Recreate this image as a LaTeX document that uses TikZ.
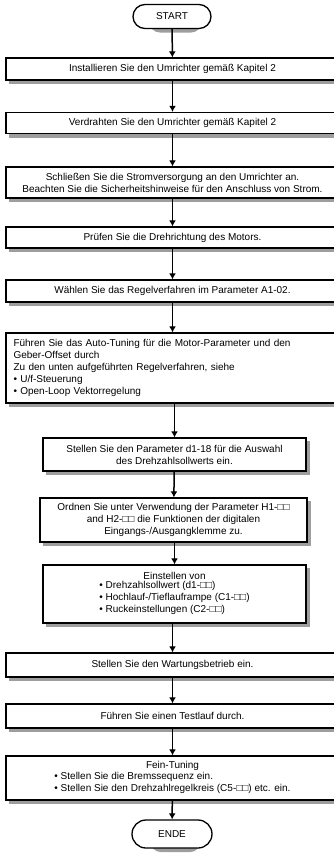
\documentclass[tikz,border=0pt]{standalone}
\usepackage{fontspec}
\setmainfont{Liberation Sans}
\usetikzlibrary{shapes,arrows}
\usetikzlibrary{arrows.meta}
\usetikzlibrary{backgrounds}
\usetikzlibrary{positioning}
\definecolor{shadowgray}{gray}{0.62}
\begin{document}
\begin{tikzpicture}[%
		x=1pt, y=1pt,
		>={Latex[length=6pt, width=7pt]},
		stepbox/.style={rectangle, draw=black, line width=1.3pt, fill=white,
			font=\fontsize{10}{12}\selectfont, inner sep=2pt},
		terminal/.style={stepbox, rounded rectangle, minimum width=82, minimum height=24},
		flow/.style={line width=1.5pt, black, ->}
		]
		% (333px,854px), y measured downwards from the top
		\useasboundingbox (0,0) rectangle (333,-854);
		%%%%%%%%%%%%%%%
		%    NODES    %
		%%%%%%%%%%%%%%%
		\node[terminal] (start) at (172, -16.5) {START};
		
		% setup
		\node[stepbox, minimum width=333, minimum height=22] (inst) at (172.5, -69) {Installieren Sie den Umrichter gemäß Kapitel 2};
		\node[stepbox, minimum width=333, minimum height=21] (wire) at (172.5, -123) {Verdrahten Sie den Umrichter gemäß Kapitel 2};
		\node[stepbox, minimum width=333, minimum height=31, align=center] (power) at (172.5, -182.5) {Schließen Sie die Stromversorgung an den Umrichter an.\\Beachten Sie die Sicherheitshinweise für den Anschluss von Strom.};
		\node[stepbox, minimum width=333, minimum height=21] (rot) at (172.5, -237.5) {Prüfen Sie die Drehrichtung des Motors.};
		\node[stepbox, minimum width=333, minimum height=22] (ctrl) at (172.5, -291) {Wählen Sie das Regelverfahren im Parameter A1-02.};
		
		% Auto-Tuning
		\node[stepbox, minimum width=333, minimum height=70, text width=318, align=left] (tune) at (172.5, -368) {Führen Sie das Auto-Tuning für die Motor-Parameter und den\\Geber-Offset durch\\Zu den unten aufgeführten Regelverfahren, siehe\\• U/f-Steuerung\\• Open-Loop Vektorregelung};
		
		% parameters
		\node[stepbox, minimum width=263, minimum height=33, align=center] (ref) at (174.5, -454.5) {Stellen Sie den Parameter d1-18 für die Auswahl\\des Drehzahlsollwerts ein.};
		\node[stepbox, minimum width=267, minimum height=44, align=center] (io) at (173.5, -520) {Ordnen Sie unter Verwendung der Parameter H1-□□\\and H2-□□ die Funktionen der digitalen\\Eingangs-/Ausgangklemme zu.};
		\node[stepbox, minimum width=263, minimum height=58, align=center] (set) at (174.5, -594) {Einstellen von\\\begin{tabular}{@{}l@{}}• Drehzahlsollwert (d1-□□)\\• Hochlauf-/Tieflauframpe (C1-□□)\\• Ruckeinstellungen (C2-□□)\end{tabular}};
		
		% final steps
		\node[stepbox, minimum width=333, minimum height=24] (maint) at (172.5, -665) {Stellen Sie den Wartungsbetrieb ein.};
		\node[stepbox, minimum width=333, minimum height=24] (test) at (172.5, -716) {Führen Sie einen Testlauf durch.};
		\node[stepbox, minimum width=333, minimum height=44, align=center] (fine) at (172.5, -778) {Fein-Tuning\\\begin{tabular}{@{}l@{}}• Stellen Sie die Bremssequenz ein.\\• Stellen Sie den Drehzahlregelkreis (C5-□□) etc. ein.\end{tabular}};
		
		\node[terminal, minimum width=84, minimum height=28] (ende) at (172, -834) {ENDE};
		
		% shadows
		\begin{scope}[on background layer]
			\foreach \n in {inst,wire,power,rot,ctrl,tune,ref,io,set,maint,test,fine}
			\fill[shadowgray] ([shift={(3.5,-3.5)}]\n.south west) rectangle ([shift={(3.5,-3.5)}]\n.north east);
			\foreach \n in {start,ende}
			\fill[shadowgray, rounded corners=12] ([shift={(3.5,-3.5)}]\n.south west) rectangle ([shift={(3.5,-3.5)}]\n.north east);
		\end{scope}
		
		%%%%%%%%%%%%%%%
		% CONNECTIONS %
		%%%%%%%%%%%%%%%
		\path[flow]
		(start) edge (inst)
		(inst) edge (wire)
		(wire) edge (power)
		(power) edge (rot)
		(rot) edge (ctrl)
		(ctrl) edge (tune)
		(tune.south -| ref.north) edge (ref)
		(ref) edge (io)
		(io.south -| set.north) edge (set)
		(set.south -| maint.north) edge (maint)
		(maint) edge (test)
		(test) edge (fine)
		(fine) edge (ende);
		
	\end{tikzpicture}
\end{document}
